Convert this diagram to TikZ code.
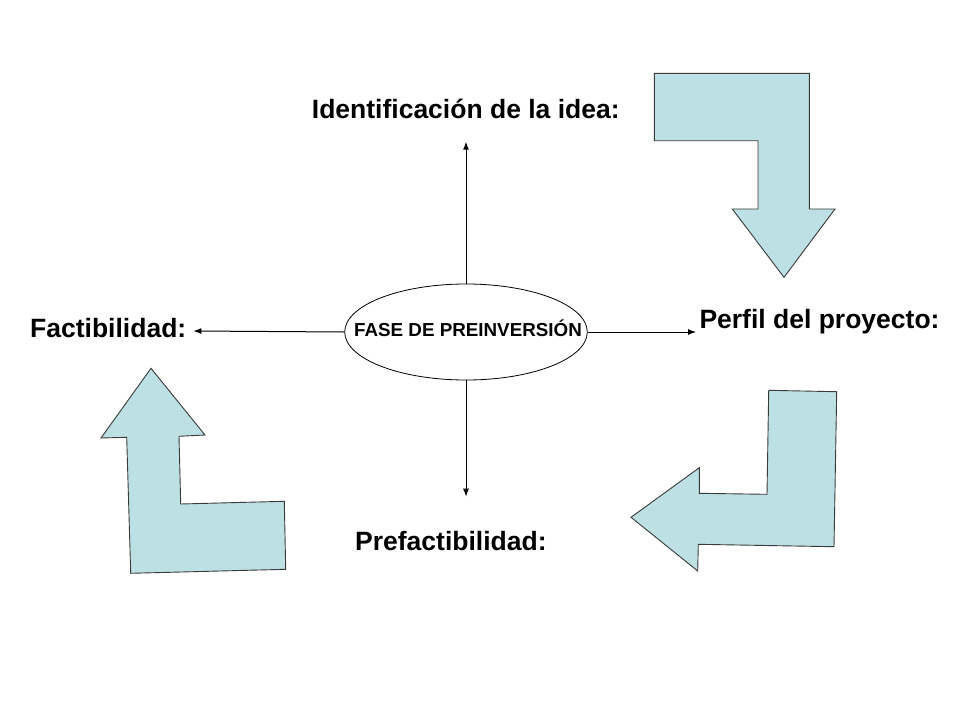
\documentclass[tikz,border=0pt]{standalone}
\usepackage{fontspec}
\setmainfont{Liberation Sans}
\usetikzlibrary{shapes.geometric,arrows.meta}
\definecolor{blockfill}{HTML}{BCE0E3}
\definecolor{blockline}{HTML}{3A3A3A}
\tikzset{
  blockarrow/.style={fill=blockfill,draw=blockline,line width=0.9pt,line join=miter},
  label/.style={font=\bfseries\fontsize{26.5}{29}\selectfont,inner sep=0pt,anchor=base west},
  link/.style={line width=1pt,-{Latex[length=8pt,width=6pt]}}
}
\begin{document}
\begin{tikzpicture}[x=1pt,y=-1pt]
\useasboundingbox (0,0) rectangle (960,720);
% central ellipse
\node[ellipse,draw,line width=0.8pt,minimum width=242.6pt,minimum height=96pt,inner sep=0pt] (center) at (466,332) {};
\node[inner sep=0pt,anchor=base,font=\bfseries\fontsize{18.8}{20}\selectfont] (centertext) at (468,336.7) {FASE DE PREINVERSIÓN};
% labels
\node[label] (idea) at (311.7,118.3) {Identificación de la idea:};
\node[label] (perfil) at (699.3,328.3) {Perfil del proyecto:};
\node[label] (factib) at (30,337.3) {Factibilidad:};
\node[label] (prefac) at (355,550.7) {Prefactibilidad:};
% connector ends
\coordinate (topend) at (466,141.7);
\coordinate (botend) at (466,496.7);
\coordinate (leftend) at (193.3,331);
\coordinate (rightend) at (696,332);
\draw[link] (center.north) -- (topend);
\draw[link] (center.south) -- (botend);
\draw[link] (center.west) -- (leftend);
\draw[link] (center.east) -- (rightend);
% block arrows
\draw[blockarrow] (654.3,73.3) -- (809.3,73.3) -- (809.3,209) -- (835,209) -- (784,277.3)
  -- (732.3,209) -- (758,209) -- (758,140.7) -- (654.3,140.7) -- cycle;
\draw[blockarrow] (768.7,390.3) -- (836.7,391.7) -- (834,546.7) -- (698.3,544.3) -- (697.7,571)
  -- (631,517.3) -- (699.3,467.7) -- (699.3,493.3) -- (767,494.3) -- cycle;
\draw[blockarrow] (151,368.3) -- (205,435) -- (179,436.3) -- (180.7,504) -- (284.3,501.3)
  -- (285.7,569.3) -- (130.7,573.3) -- (126.7,437.3) -- (101,438) -- cycle;
\end{tikzpicture}
\end{document}
